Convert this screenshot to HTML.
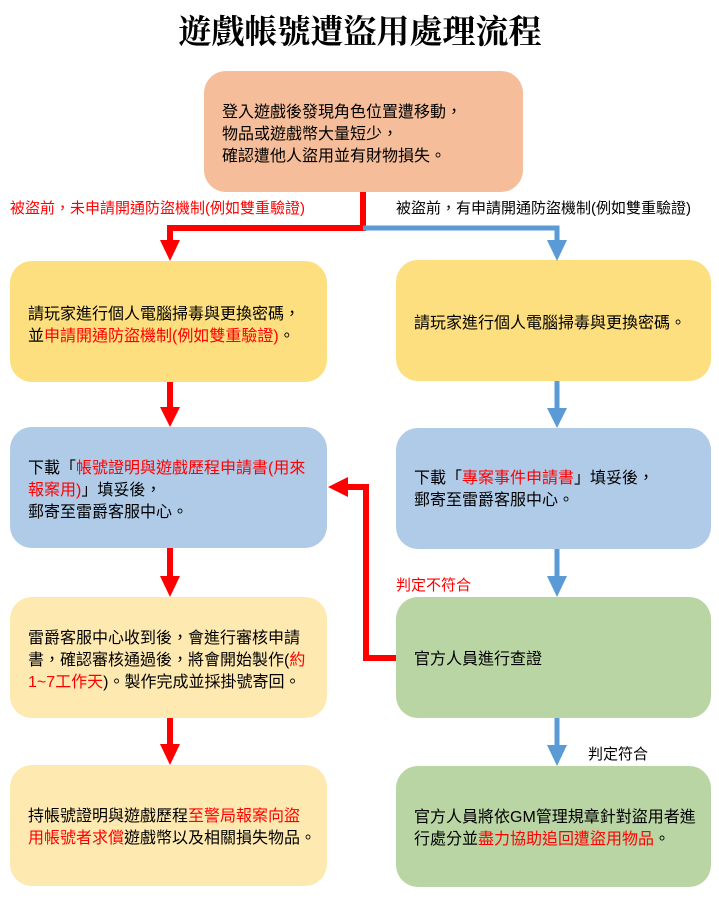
<!DOCTYPE html>
<html><head><meta charset="utf-8"><style>
body{margin:0;background:#fff;}
svg text{font-family:"Liberation Sans","Noto Sans CJK TC",sans-serif;font-size:16px;fill:#000;}
.r{fill:#f00;}
</style></head><body>
<svg width="719" height="896" xmlns="http://www.w3.org/2000/svg">
<text x="360" y="43" text-anchor="middle" style="font-family:'Liberation Serif','Noto Serif CJK SC',serif;font-size:33px;font-weight:bold">遊戲帳號遭盜用處理流程</text>
<rect x="204" y="71" width="319" height="121" rx="22" fill="#f5bd99"/>
<rect x="10" y="261" width="317" height="121" rx="22" fill="#fedf80"/>
<rect x="396" y="260" width="315" height="121" rx="22" fill="#fedf80"/>
<rect x="10" y="427" width="317" height="121" rx="22" fill="#afcbe8"/>
<rect x="396" y="428" width="315" height="121" rx="22" fill="#afcbe8"/>
<rect x="10" y="597" width="317" height="121" rx="22" fill="#fee9b0"/>
<rect x="396" y="597" width="315" height="121" rx="22" fill="#b9d5a3"/>
<rect x="10" y="765" width="317" height="121" rx="22" fill="#fee9b0"/>
<rect x="396" y="766" width="315" height="121" rx="22" fill="#b9d5a3"/>
<path d="M363 192 V228 H170 V242" stroke="#f00" stroke-width="6" fill="none"/>
<polygon points="160,240 180,240 170,261" fill="#f00"/>
<path d="M363 228 H557 V242" stroke="#5b9bd5" stroke-width="5" fill="none"/>
<polygon points="547,240 567,240 557,261" fill="#5b9bd5"/>
<path d="M170 382 V410" stroke="#f00" stroke-width="6"/><polygon points="160,407 180,407 170,427" fill="#f00"/>
<path d="M170 548 V578" stroke="#f00" stroke-width="6"/><polygon points="160,576 180,576 170,597" fill="#f00"/>
<path d="M170 718 V746" stroke="#f00" stroke-width="6"/><polygon points="160,744 180,744 170,765" fill="#f00"/>
<path d="M557 381 V410" stroke="#5b9bd5" stroke-width="5"/><polygon points="547,408 567,408 557,428" fill="#5b9bd5"/>
<path d="M557 549 V578" stroke="#5b9bd5" stroke-width="5"/><polygon points="547,576 567,576 557,597" fill="#5b9bd5"/>
<path d="M557 718 V746" stroke="#5b9bd5" stroke-width="5"/><polygon points="547,745 567,745 557,766" fill="#5b9bd5"/>
<path d="M396 658 H366 V487 H345" stroke="#f00" stroke-width="6" fill="none"/>
<polygon points="348,477 348,497 328,487" fill="#f00"/>
<text x="10" y="213" class="r" style="font-size:15px">被盜前，未申請開通防盜機制(例如雙重驗證)</text>
<text x="396" y="213" style="font-size:15px">被盜前，有申請開通防盜機制(例如雙重驗證)</text>
<text x="396" y="590" class="r" style="font-size:15px">判定不符合</text>
<text x="588" y="759" style="font-size:15px">判定符合</text>
<text x="222" y="117">登入遊戲後發現角色位置遭移動，</text>
<text x="222" y="139">物品或遊戲幣大量短少，</text>
<text x="222" y="161">確認遭他人盜用並有財物損失。</text>
<text x="28" y="319">請玩家進行個人電腦掃毒與更換密碼，</text>
<text x="28" y="341">並<tspan class="r">申請開通防盜機制(例如雙重驗證)</tspan>。</text>
<text x="414" y="328">請玩家進行個人電腦掃毒與更換密碼。</text>
<text x="28" y="473">下載「<tspan class="r">帳號證明與遊戲歷程申請書(用來</tspan></text>
<text x="28" y="495"><tspan class="r">報案用)</tspan>」填妥後，</text>
<text x="28" y="517">郵寄至雷爵客服中心。</text>
<text x="414" y="483">下載「<tspan class="r">專案事件申請書</tspan>」填妥後，</text>
<text x="414" y="505">郵寄至雷爵客服中心。</text>
<text x="28" y="643">雷爵客服中心收到後，會進行審核申請</text>
<text x="28" y="665">書，確認審核通過後，將會開始製作(<tspan class="r">約</tspan></text>
<text x="28" y="687"><tspan class="r">1~7工作天</tspan>)。製作完成並採掛號寄回。</text>
<text x="414" y="664">官方人員進行查證</text>
<text x="28" y="821">持帳號證明與遊戲歷程<tspan class="r">至警局報案向盜</tspan></text>
<text x="28" y="843"><tspan class="r">用帳號者求償</tspan>遊戲幣以及相關損失物品。</text>
<text x="414" y="822">官方人員將依GM管理規章針對盜用者進</text>
<text x="414" y="844">行處分並<tspan class="r">盡力協助追回遭盜用物品</tspan>。</text>
</svg>
</body></html>
